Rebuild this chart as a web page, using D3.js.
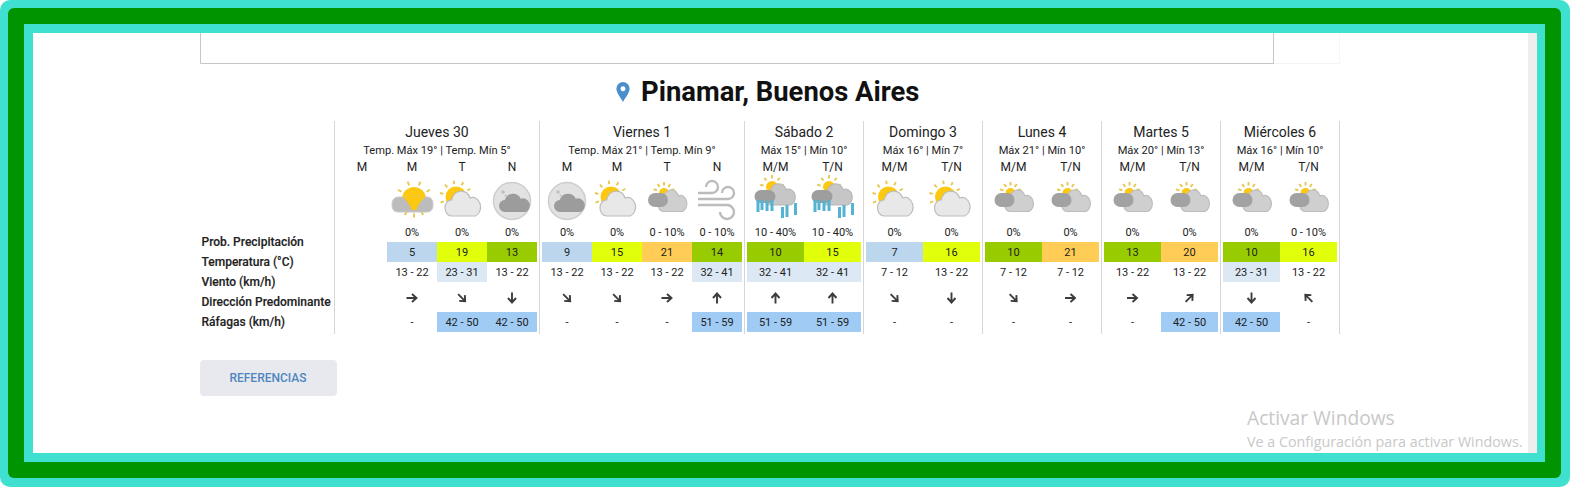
<!DOCTYPE html>
<html><head><meta charset="utf-8">
<script src="https://cdn.jsdelivr.net/npm/d3@7/dist/d3.min.js"></script>
<style>html,body{margin:0;padding:0;background:#fff;overflow:hidden}svg{display:block}text{font-family:Roboto,sans-serif;fill:#222}</style>
</head><body><svg id="c" width="1570" height="487"></svg>
<script>
const days = ["Jueves 30","Viernes 1","Sábado 2","Domingo 3","Lunes 4","Martes 5","Miércoles 6"];
const dayNotes = ["Temp. Máx 19° | Temp. Mín 5°","Temp. Máx 21° | Temp. Mín 9°","Máx 15° | Mín 10°","Máx 16° | Mín 7°","Máx 21° | Mín 10°","Máx 20° | Mín 13°","Máx 16° | Mín 10°"];
const slots = [["M","M","T","N"],["M","M","T","N"],["M/M","T/N"],["M/M","T/N"],["M/M","T/N"],["M/M","T/N"],["M/M","T/N"]];
const icons = [[null,"sunStorm","sun","moon"],["moon","sun","grey","wind"],["rain","rain"],["sun","sun"],["grey","grey"],["grey","grey"],["grey","grey"]];
const precip = [[null,"0%","0%","0%"],["0%","0%","0 - 10%","0 - 10%"],["10 - 40%","10 - 40%"],["0%","0%"],["0%","0%"],["0%","0%"],["0%","0 - 10%"]];
const temps = [[null,5,19,13],[9,15,21,14],[10,15],[7,16],[10,21],[13,20],[10,16]];
const wind = [[null,"13 - 22","23 - 31","13 - 22"],["13 - 22","13 - 22","13 - 22","32 - 41"],["32 - 41","32 - 41"],["7 - 12","13 - 22"],["7 - 12","7 - 12"],["13 - 22","13 - 22"],["23 - 31","13 - 22"]];
const dirs = [[null,"E","SE","S"],["SE","SE","E","N"],["N","N"],["SE","S"],["SE","E"],["E","NE"],["S","NW"]];
const gusts = [[null,"-","42 - 50","42 - 50"],["-","-","-","51 - 59"],["51 - 59","51 - 59"],["-","-"],["-","-"],["-","42 - 50"],["42 - 50","-"]];
const rowLabels = ["Prob. Precipitación","Temperatura (°C)","Viento (km/h)","Dirección Predominante","Ráfagas (km/h)"];
const headline = "Pinamar, Buenos Aires";
const buttonLabel = "REFERENCIAS";

const svg = d3.select("#c");
const R = (x,y,w,h,f,rx) => svg.append("rect").attr("x",x).attr("y",y).attr("width",w).attr("height",h).attr("fill",f).attr("rx",rx||0);
// frame
R(0,0,1570,487,"#40e0d0",10);
R(8,8,1553,470,"#009400",6);
R(24,24,1521,438,"#40e0d0");
R(33,33,1504,420,"#fff");
R(1528,33,9,420,"#eeeeee");
// search box remains
const ln=(a,b,c,d,s)=>svg.append("line").attr("x1",a).attr("y1",b).attr("x2",c).attr("y2",d).attr("stroke",s).attr("stroke-width",1);
ln(200.5,33,200.5,63.5,"#c6c6c6");ln(200.5,63.5,1274,63.5,"#c6c6c6");ln(1273.5,33,1273.5,63.5,"#c6c6c6");
ln(1274,63.5,1340,63.5,"#f4f4f4");ln(1339.5,33,1339.5,63.5,"#f6f6f6");

// title
svg.append("path").attr("transform","translate(623,92)")
 .attr("d","M0 -10 A6.6 6.6 0 0 1 6.6 -3.4 C6.6 1.5 2 6 0 10 C-2 6 -6.6 1.5 -6.6 -3.4 A6.6 6.6 0 0 1 0 -10 Z M0 -5.8 A2.5 2.5 0 1 0 0.01 -5.8 Z")
 .attr("fill","#4a8fcb").attr("fill-rule","evenodd");
svg.append("text").attr("x",641).attr("y",101).attr("font-size",27.4).attr("font-weight",700).style("fill","#111").text(headline);

// scales
const edges = [334,539,744,863,982,1101,1220,1339];
const edgeOf = d3.scaleOrdinal(d3.range(8),edges);
const y = d3.scaleOrdinal(["top","head","note","slot","icon","precip","temp","wind","dir","gust","bottom"],
                          [121,132,150,167,199,232,242,262,298,312,334]);
const rowH = 20;
const labelY = d3.scalePoint(rowLabels,[241.5,321.5]);
const tempColor = d3.scaleThreshold([10,15,20],["#bcd6ee","#99cc00","#e1ff0a","#ffcc55"]);
const windColor = d3.scaleThreshold([23],["none","#dce9f5"]);
const gustColor = d3.scaleThreshold([42],["none","#9fcbf5"]);

// left labels
svg.selectAll(".rl").data(rowLabels).join("text").attr("class","rl").attr("x",201.5)
  .attr("y",d=>labelY(d)).attr("dy","0.35em").attr("font-size",12).attr("font-weight",500).style("stroke","#222").style("stroke-width",0.15).text(d=>d);

// glyphs
const CLOUD="M18 60 A18 18 0 0 1 18 24 A27 27 0 0 1 68 20 A21 21 0 0 1 82 60 Z";
function cloud(g,x,y0,w,h,fill,stroke){
  g.append("path").attr("d",CLOUD).attr("transform",`translate(${x},${y0}) scale(${w/100},${h/60})`)
   .attr("fill",fill).attr("stroke",stroke||"none").attr("stroke-width",stroke?1.2:0).attr("vector-effect","non-scaling-stroke");
}
function rays(g,cx,cy,r,from,to,n,len){
  for(let i=0;i<n;i++){
    const a=(from+(to-from)*i/(n-1))*Math.PI/180;
    g.append("line").attr("x1",cx+Math.cos(a)*(r+2.5)).attr("y1",cy+Math.sin(a)*(r+2.5))
      .attr("x2",cx+Math.cos(a)*(r+2.5+len)).attr("y2",cy+Math.sin(a)*(r+2.5+len))
      .attr("stroke","#e6c850").attr("stroke-width",1.9);
  }
}
function sun(g,cx,cy,r,from,to,n,len){
  rays(g,cx,cy,r,from,to,n,len);
  g.append("circle").attr("cx",cx).attr("cy",cy).attr("r",r).attr("fill","#fcc812");
}
const draw={
 sunStorm(g){
  sun(g,2,0,12,-190,10,6,4);
  rays(g,2,0,12,60,120,3,4);
  g.append("path").attr("d","M-20 5.5 Q-20 -2 -13 -2 L15 -2 Q21 -2 21 5.5 Q21 13 15 13 L-14 13 Q-20 13 -20 5.5 Z").attr("fill","#bcbcbc").attr("stroke","#c8c8c8");
  g.append("path").attr("d","M-10 -2.5 L14 -2.5 Q6 4 4.5 11 L-0.5 11 Q-2 4 -10 -2.5 Z").attr("fill","#fcc812");
 },
 sun(g){
  sun(g,-6,-2,10.5,-200,-30,6,3.5);
  cloud(g,-17,-10,37,27,"#e8e8e8","#bdbdbd");
 },
 moon(g){
  g.append("circle").attr("cx",0).attr("cy",2).attr("r",18.5).attr("fill","#e2e2e2").attr("stroke","#cdcdcd").attr("stroke-width",1.5);
  g.append("circle").attr("cx",-9).attr("cy",-7).attr("r",1.8).attr("fill","#c0c0c0");
  g.append("circle").attr("cx",-6.5).attr("cy",-3.5).attr("r",1).attr("fill","#c0c0c0");
  cloud(g,-13,-7,32,20,"#9c9c9c");
 },
 grey(g){
  sun(g,-3,-6,5,-160,-20,5,3.5);
  cloud(g,-9,-11,30,23.5,"#cfcfcf","#bdbdbd");
  g.append("rect").attr("x",-19).attr("y",-6).attr("width",20).attr("height",14).attr("rx",7).attr("fill","#a2a2a2");
 },
 wind(g){
  const p="M-19 -6 H-5 A6 6 0 1 0 -11 -12 M-19 0 H11 A6 6 0 1 0 5 -6 M-19 6 H10 A7 7 0 1 1 3 13";
  g.append("path").attr("d",p).attr("fill","none").attr("stroke","#bcbcbc").attr("stroke-width",2.4);
 },
 rain(g){
  sun(g,-3.5,-12,6,-170,-10,5,3.5);
  cloud(g,-11,-17,32,23,"#c6c6c6","#b8b8b8");
  g.append("rect").attr("x",-21).attr("y",-9).attr("width",21).attr("height",13).attr("rx",6.5).attr("fill","#9e9e9e");
  const bars=[[-19,1,12],[-15,1,10],[-10,2,10],[-5,1,11],[5.5,8,11],[10,6,12],[18.5,4,12]];
  bars.forEach(b=>g.append("rect").attr("x",b[0]).attr("y",b[1]).attr("width",3).attr("height",b[2]).attr("fill","#52b4d2"));
 }
};
const angle=d3.scaleOrdinal(["N","NE","E","SE","S","NW"],[0,45,90,135,180,315]);

days.forEach((day,i)=>{
  const x0=edgeOf(i),x1=edgeOf(i+1);
  const band=d3.scaleBand(d3.range(slots[i].length),[x0+3,x1-2]);
  const mid=(x0+x1)/2+0.5;
  ln(x0+.5,y("top"),x0+.5,y("bottom"),"#d6d6d6");
  if(i===days.length-1) ln(x1+.5,y("top"),x1+.5,y("bottom"),"#d6d6d6");
  svg.append("text").attr("x",mid).attr("y",y("head")).attr("dy","0.35em").attr("text-anchor","middle").attr("font-size",14).text(day);
  svg.append("text").attr("x",mid).attr("y",y("note")).attr("dy","0.35em").attr("text-anchor","middle").attr("font-size",11.1).text(dayNotes[i]);
  const idx=d3.range(slots[i].length);
  const col=svg.append("g");
  const cx=k=>band(k)+band.bandwidth()/2;
  const txt=(arr,row,size)=>col.selectAll(null).data(idx.filter(k=>arr[i][k]!=null)).join("text")
     .attr("x",cx).attr("y",y(row)).attr("dy","0.35em").attr("text-anchor","middle").attr("font-size",size).text(k=>arr[i][k]);
  const rects=(vals,row,color)=>col.selectAll(null).data(idx.filter(k=>vals[i][k]!=null)).join("rect")
     .attr("x",k=>band(k)).attr("y",y(row)).attr("width",band.bandwidth()).attr("height",rowH).attr("fill",k=>color(k));
  txt(slots,"slot",12);
  idx.forEach(k=>{ if(icons[i][k]) draw[icons[i][k]](col.append("g").attr("transform",`translate(${cx(k)},${y("icon")})`)); });
  txt(precip,"precip",11);
  rects(temps,"temp",k=>tempColor(temps[i][k]));
  rects(wind,"wind",k=>windColor(parseInt(wind[i][k])));
  rects(gusts,"gust",k=>gustColor(parseInt(gusts[i][k])||0));
  const line=(arr,row,shift)=>col.selectAll(null).data(idx.filter(k=>arr[i][k]!=null)).join("text")
     .attr("x",cx).attr("y",y(row)+shift).attr("dy","0.35em").attr("text-anchor","middle").attr("font-size",11).text(k=>arr[i][k]);
  line(temps,"temp",10);
  line(wind,"wind",10);
  line(gusts,"gust",10);
  idx.filter(k=>dirs[i][k]).forEach(k=>{
    col.append("path").attr("transform",`translate(${cx(k)},${y("dir")}) rotate(${angle(dirs[i][k])})`)
      .attr("d","M0 5.5 V-4 M-4 0 L0 -4.5 L4 0").attr("fill","none").attr("stroke","#3c3c3c").attr("stroke-width",1.9);
  });
});

// button
R(200,360,137,36,"#e8e9ee",4);
svg.append("text").attr("x",268).attr("y",378).attr("dy","0.35em").attr("text-anchor","middle").attr("font-size",12).attr("font-weight",500).style("fill","#4f86c0").text(buttonLabel);

// watermark
svg.append("text").attr("x",1247).attr("y",425).attr("font-size",19.2).style("font-family","'Open Sans'").style("fill","#c8c8c8").text("Activar Windows");
svg.append("text").attr("x",1247).attr("y",446.5).attr("font-size",14.3).style("font-family","'Open Sans'").style("fill","#c8c8c8").text("Ve a Configuración para activar Windows.");
</script></body></html>
